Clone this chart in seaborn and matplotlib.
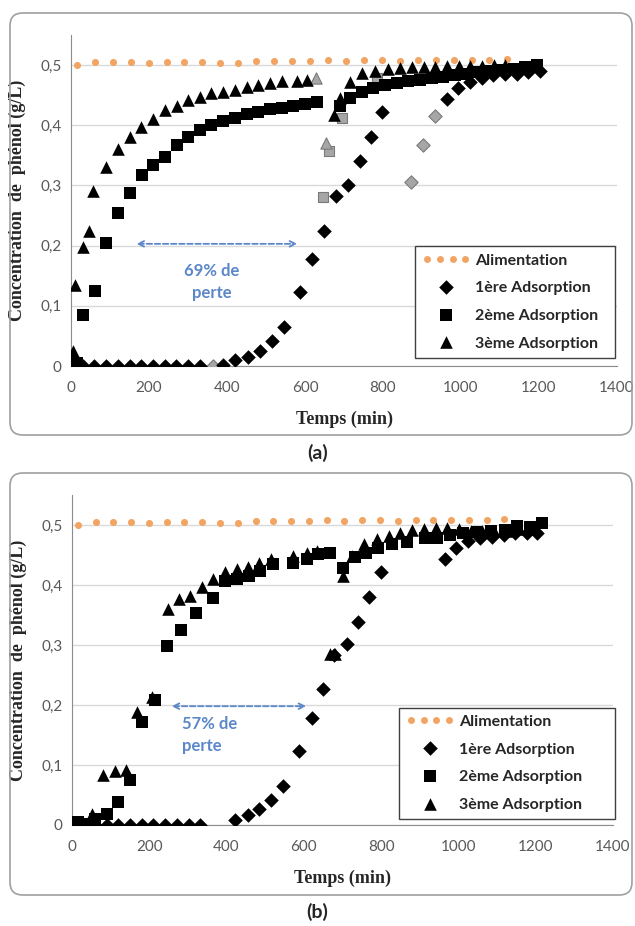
import matplotlib
matplotlib.use("Agg")
import matplotlib.pyplot as plt
import matplotlib.patches as mpatches
from matplotlib.lines import Line2D
import seaborn as sns

# feed (Alimentation), identical in both panels
t_alim = [15, 61, 107, 153, 199, 245, 291, 337, 383, 429, 475, 521, 567, 613, 659,
          705, 751, 797, 843, 889, 935, 981, 1027, 1073, 1119]
c_alim = [0.500, 0.505, 0.505, 0.505, 0.503, 0.505, 0.505, 0.505, 0.504, 0.503, 0.506, 0.507,
          0.507, 0.507, 0.508, 0.507, 0.508, 0.508, 0.507, 0.508, 0.509, 0.508, 0.509, 0.508, 0.510]

# ---- panel (a)
t1a = [0, 30, 60, 90, 120, 150, 180, 210, 240, 270, 300, 330, 390, 420, 455, 485, 515, 545,
       587, 618, 648, 680, 711, 740, 768, 798, 963, 993, 1023, 1053, 1083, 1113, 1143, 1173, 1203]
c1a = [0, 0, 0, 0, 0, 0, 0, 0, 0, 0, 0, 0, 0.002, 0.01, 0.015, 0.025, 0.042, 0.065,
       0.123, 0.178, 0.225, 0.282, 0.300, 0.340, 0.380, 0.422, 0.443, 0.462, 0.472, 0.478,
       0.483, 0.485, 0.486, 0.488, 0.490]
t2a = [0, 15, 32, 62, 91, 121, 151, 181, 211, 241, 271, 301, 331, 360, 390, 420, 450, 480,
       510, 540, 570, 600, 630, 690, 715, 745, 775, 805, 835, 865, 895, 925, 955, 985, 1015,
       1045, 1075, 1105, 1135, 1165, 1195]
c2a = [0, 0.005, 0.084, 0.125, 0.205, 0.255, 0.288, 0.318, 0.334, 0.348, 0.367, 0.380, 0.392,
       0.400, 0.407, 0.412, 0.418, 0.422, 0.427, 0.429, 0.432, 0.436, 0.438, 0.432, 0.445,
       0.455, 0.462, 0.467, 0.470, 0.473, 0.476, 0.478, 0.481, 0.484, 0.486, 0.488, 0.490,
       0.492, 0.494, 0.497, 0.500]
t3a = [0, 6, 10, 30, 46, 56, 91, 120, 150, 180, 211, 241, 271, 301, 331, 360, 390, 420, 450,
       480, 510, 540, 579, 604, 675, 690, 715, 745, 780, 814, 844, 874, 904, 934, 964, 994,
       1024, 1054, 1084, 1114]
c3a = [0, 0.025, 0.135, 0.197, 0.224, 0.290, 0.330, 0.360, 0.381, 0.397, 0.410, 0.425, 0.432,
       0.442, 0.447, 0.453, 0.456, 0.459, 0.464, 0.467, 0.471, 0.473, 0.473, 0.475, 0.417,
       0.445, 0.472, 0.487, 0.491, 0.494, 0.495, 0.496, 0.497, 0.497, 0.498, 0.498, 0.499,
       0.499, 0.500, 0.500]
# grey (highlighted) points of panel (a)
t1a_grey = [365, 873, 903, 933]
c1a_grey = [0.0, 0.305, 0.367, 0.415]
t2a_grey = [647, 662, 694, 784]
c2a_grey = [0.280, 0.357, 0.412, 0.478]
t3a_grey = [629, 655]
c3a_grey = [0.478, 0.370]

# ---- panel (b)
t1b = [0, 29, 60, 90, 120, 150, 181, 210, 241, 271, 302, 331, 422, 455, 485, 514, 545, 588,
       620, 650, 678, 711, 741, 769, 799, 965, 995, 1026, 1056, 1086, 1117, 1147, 1177, 1203]
c1b = [0, 0, 0, 0, 0, 0, 0, 0, 0, 0, 0, 0, 0.008, 0.017, 0.026, 0.042, 0.065, 0.123, 0.179,
       0.227, 0.284, 0.301, 0.339, 0.380, 0.421, 0.443, 0.462, 0.473, 0.478, 0.480, 0.484,
       0.487, 0.487, 0.487]
t2b = [0, 15, 30, 60, 90, 120, 150, 180, 215, 245, 282, 321, 364, 396, 426, 457, 487, 521,
       573, 607, 637, 668, 702, 732, 762, 792, 827, 866, 913, 944, 978, 1013, 1048, 1085,
       1120, 1151, 1185, 1216]
c2b = [0, 0.005, 0.002, 0.010, 0.019, 0.039, 0.075, 0.172, 0.208, 0.299, 0.325, 0.353, 0.379,
       0.406, 0.410, 0.415, 0.424, 0.435, 0.437, 0.443, 0.451, 0.454, 0.428, 0.446, 0.454,
       0.462, 0.468, 0.472, 0.478, 0.478, 0.484, 0.487, 0.489, 0.490, 0.492, 0.498, 0.497, 0.503]
t3b = [0, 20, 51, 81, 111, 139, 167, 206, 248, 277, 306, 336, 364, 396, 426, 455, 485, 515,
       573, 607, 633, 668, 680, 702, 724, 755, 790, 820, 850, 881, 911, 941, 971, 1002, 1032,
       1062, 1093, 1123, 1153, 1183]
c3b = [0, 0.005, 0.019, 0.083, 0.090, 0.092, 0.188, 0.213, 0.360, 0.377, 0.382, 0.396, 0.410,
       0.421, 0.427, 0.430, 0.437, 0.443, 0.448, 0.454, 0.457, 0.285, 0.285, 0.415, 0.449,
       0.468, 0.476, 0.482, 0.487, 0.491, 0.493, 0.495, 0.495, 0.493, 0.490, 0.490, 0.490,
       0.490, 0.493, 0.493]

labels = ["Alimentation", "1ère Adsorption", "2ème Adsorption", "3ème Adsorption"]
yticks = [0, 0.1, 0.2, 0.3, 0.4, 0.5]
ytick_labels = ["0", "0,1", "0,2", "0,3", "0,4", "0,5"]
xticks = [0, 200, 400, 600, 800, 1000, 1200, 1400]

orange = "#f2a563"
blue = "#5b87c9"
grey_fill = "#a6a6a6"
grey_edge = "#7a7a7a"

sns.set_style("white")
plt.rcParams["font.family"] = ["Lato", "DejaVu Sans"]

fig = plt.figure(figsize=(6.35, 9.26), dpi=100)
W, H = 635, 926


def px_rect(l, t, r, b):
    return [l / W, 1 - b / H, (r - l) / W, (b - t) / H]


def draw_panel(ax, d1, d2, d3, greys, note, arrow, note_xy, note_ha, leg_box):
    sns.scatterplot(x=t_alim, y=c_alim, color=orange, marker="o", s=26, linewidth=0,
                    ax=ax, zorder=3, legend=False)
    for (tx, cy, mk, sz) in greys:
        sns.scatterplot(x=tx, y=cy, color=grey_fill, edgecolor=grey_edge, marker=mk, s=sz,
                        linewidth=0.8, ax=ax, zorder=3.5, legend=False)
    sns.scatterplot(x=d1[0], y=d1[1], color="black", marker="D", s=55, linewidth=0,
                    ax=ax, label=labels[1], zorder=4)
    sns.scatterplot(x=d2[0], y=d2[1], color="black", marker="s", s=70, linewidth=0,
                    ax=ax, label=labels[2], zorder=4)
    sns.scatterplot(x=d3[0], y=d3[1], color="black", marker="^", s=82, linewidth=0,
                    ax=ax, label=labels[3], zorder=4)

    ax.set_xlim(0, 1400)
    ax.set_ylim(0, 0.55)
    ax.set_xticks(xticks)
    ax.set_yticks(yticks)
    ax.set_yticklabels(ytick_labels)
    ax.grid(axis="y", color="#d9d9d9", linewidth=1)
    ax.set_axisbelow(True)
    for s in ["top", "right"]:
        ax.spines[s].set_visible(False)
    ax.spines["left"].set_color("#8c8c8c")
    ax.spines["bottom"].set_color("#8c8c8c")
    ax.tick_params(axis="x", direction="inout", length=5, width=1, color="#8c8c8c",
                   labelsize=11, labelcolor="#595959", pad=8)
    ax.tick_params(axis="y", direction="out", length=4, width=1, color="#8c8c8c",
                   labelsize=11, labelcolor="#595959", pad=3)

    ax.set_xlabel("Temps (min)", family="Liberation Serif", fontweight="bold", fontsize=13)
    ax.set_ylabel("Concentration  de  phénol (g/L)", family="Liberation Serif",
                  fontweight="bold", fontsize=13)
    ax.xaxis.set_label_coords(0.5, -0.135)
    ax.yaxis.set_label_coords(-0.083, 0.5)

    ax.annotate("", xy=(arrow[1], arrow[2]), xytext=(arrow[0], arrow[2]),
                arrowprops=dict(arrowstyle="<->", color=blue, lw=1.3,
                                linestyle=(0, (3, 1.5)), shrinkA=0, shrinkB=0))
    ax.text(note_xy[0], note_xy[1], note, color=blue, fontsize=12, fontweight="bold",
            ha=note_ha, va="center", linespacing=1.45)

    handles, labs = ax.get_legend_handles_labels()
    alim_handle = Line2D([], [], marker="o", linestyle="none", color=orange,
                         markersize=5, markeredgewidth=0)
    leg = ax.legend([alim_handle] + handles[:3], [labels[0]] + labs[:3],
                    loc="lower left", bbox_to_anchor=leg_box,
                    mode="expand", borderaxespad=0, frameon=True, fancybox=False,
                    edgecolor="#404040", framealpha=1, numpoints=4, scatterpoints=1,
                    scatteryoffsets=[0.5], handlelength=3.0, handletextpad=0.3,
                    labelspacing=0.85, borderpad=0.45,
                    prop={"family": "Lato", "weight": "bold", "size": 11.5})
    leg.get_frame().set_linewidth(1.0)


# panel (a)
ax_a = fig.add_axes(px_rect(71, 35, 617, 366))
draw_panel(ax_a, (t1a, c1a), (t2a, c2a), (t3a, c3a),
           [(t1a_grey, c1a_grey, "D", 46), (t2a_grey, c2a_grey, "s", 58),
            (t3a_grey, c3a_grey, "^", 66)],
           "69% de\nperte", (168, 580, 0.203), (362, 0.14), "center",
           (0.63, 0.024, 0.366, 0.356))

# panel (b)
ax_b = fig.add_axes(px_rect(72, 495, 613, 825))
draw_panel(ax_b, (t1b, c1b), (t2b, c2b), (t3b, c3b), [],
           "57% de\nperte", (258, 606, 0.198), (285, 0.15), "left",
           (0.604, 0.017, 0.40, 0.408))

# rounded frames around each panel and panel letters
for top, bottom in [(13, 435), (473, 895)]:
    l, b, w, h = px_rect(10, top, 632, bottom)
    fig.add_artist(mpatches.FancyBboxPatch((l, b), w, h, transform=fig.transFigure,
                                           boxstyle="round,pad=0,rounding_size=0.02",
                                           mutation_aspect=W / H, fill=False,
                                           edgecolor="#a0a0a0", linewidth=1.2))
fig.text(0.5, 1 - 453 / H, "(a)", ha="center", va="center", fontsize=14, fontweight="bold")
fig.text(0.5, 1 - 912 / H, "(b)", ha="center", va="center", fontsize=14, fontweight="bold")

fig.savefig("out.png", dpi=100)
